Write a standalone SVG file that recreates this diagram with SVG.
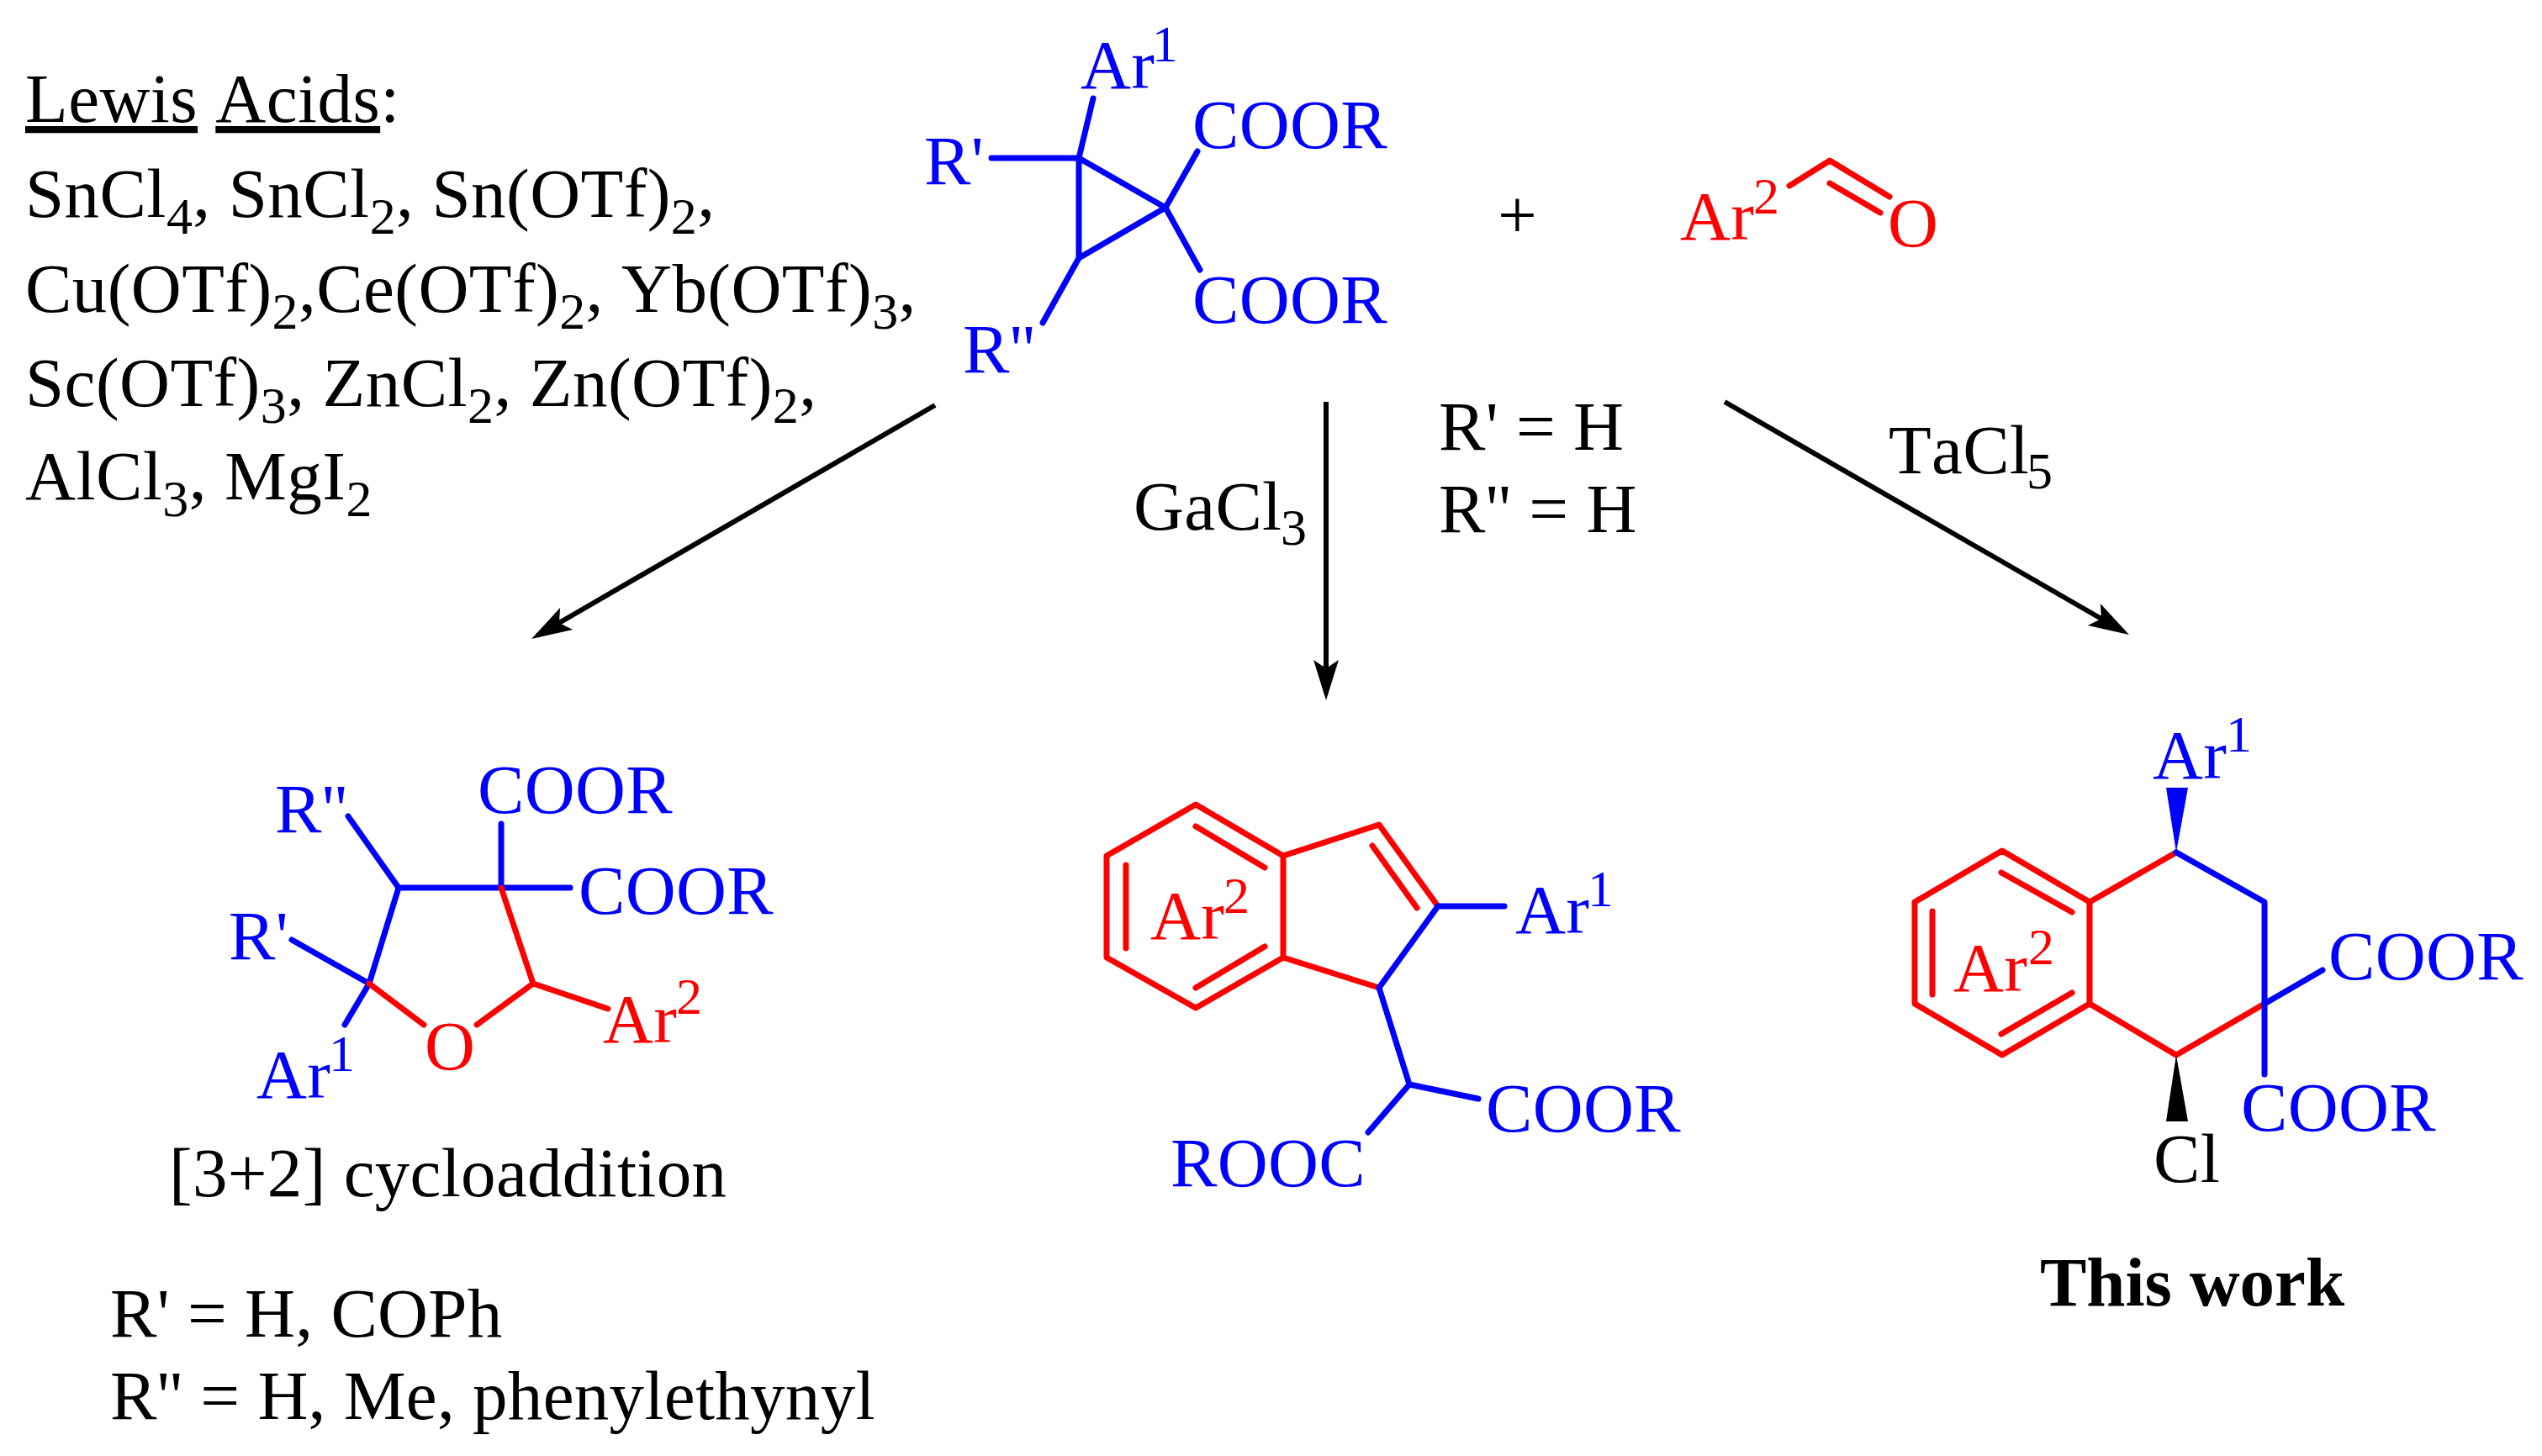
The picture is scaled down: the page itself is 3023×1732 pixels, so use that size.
<svg xmlns="http://www.w3.org/2000/svg" width="3023" height="1732" viewBox="0 0 3023 1732">
<style>
text{font-family:"Liberation Serif","Times New Roman",serif;font-size:83px;fill:#000;font-kerning:none;letter-spacing:.3px}
.b text,text.b{fill:#00f}
.r text,text.r{fill:#f00}
.u{font-size:62px}
#lewis-acids text{letter-spacing:.45px}
.bl,.rl,.al{fill:none;stroke-linecap:round;stroke-linejoin:round;stroke-width:7}
.bl{stroke:#00f}.rl{stroke:#f00}
.al{stroke:#000;stroke-width:6;stroke-linecap:butt}
</style>
<defs>
<marker id="ah" markerUnits="userSpaceOnUse" markerWidth="54" markerHeight="34" viewBox="-50 -17 54 34" refX="-8" refY="0" orient="auto"><path d="M0,0L-48,-15L-38,0L-48,15Z" fill="#000"/></marker>
</defs>
<rect width="3023" height="1732" fill="#fff"/>
<g id="connectors">
<path class="al" marker-end="url(#ah)" d="M1112,482L639,756"/>
<path class="al" marker-end="url(#ah)" d="M1577,478V825"/>
<path class="al" marker-end="url(#ah)" d="M2051,478L2525,751"/>
</g>
<g id="lewis-acids">
<text x="30" y="145"><tspan text-decoration="underline">Lewis</tspan> <tspan text-decoration="underline">Acids</tspan>:</text>
<text x="30" y="258">SnCl<tspan class="u" dy="20">4</tspan><tspan dy="-20">, SnCl</tspan><tspan class="u" dy="20">2</tspan><tspan dy="-20">, Sn(OTf)</tspan><tspan class="u" dy="20">2</tspan><tspan dy="-20">,</tspan></text>
<text x="30" y="371">Cu(OTf)<tspan class="u" dy="20">2</tspan><tspan dy="-20">,Ce(OTf)</tspan><tspan class="u" dy="20">2</tspan><tspan dy="-20">, Yb(OTf)</tspan><tspan class="u" dy="20">3</tspan><tspan dy="-20">,</tspan></text>
<text x="30" y="483">Sc(OTf)<tspan class="u" dy="20">3</tspan><tspan dy="-20">, ZnCl</tspan><tspan class="u" dy="20">2</tspan><tspan dy="-20">, Zn(OTf)</tspan><tspan class="u" dy="20">2</tspan><tspan dy="-20">,</tspan></text>
<text x="30" y="594">AlCl<tspan class="u" dy="20">3</tspan><tspan dy="-20">, MgI</tspan><tspan class="u" dy="20">2</tspan></text>
</g>
<g id="cyclopropane" class="b">
<path class="bl" d="M1283,188L1386,247L1283,307ZM1283,188L1300,117M1179,188H1283M1386,247L1424,180M1386,247L1427,321M1283,307L1240,384"/>
<text x="1285" y="105">Ar<tspan class="u" x="1370" y="73">1</tspan></text>
<text x="1418" y="176">COOR</text>
<text x="1418" y="384">COOR</text>
<text x="1099" y="219">R'</text>
<text x="1145" y="443">R''</text>
</g>
<g id="plus"><text x="1781" y="283">+</text></g>
<g id="aldehyde" class="r">
<path class="rl" d="M2128,221L2176,191L2247,234M2176,218L2236,253"/>
<text x="1998" y="285">Ar<tspan class="u" x="2085" y="254">2</tspan></text>
<text x="2245" y="293">O</text>
</g>
<g id="gacl3"><text x="1348" y="630">GaCl<tspan class="u" x="1523" y="648">3</tspan></text></g>
<g id="r-conditions">
<text x="1711" y="535">R' = H</text>
<text x="1711" y="633">R'' = H</text>
</g>
<g id="tacl5"><text x="2246" y="563">TaCl<tspan class="u" x="2410" y="581">5</tspan></text></g>
<g id="product-furan">
<g class="b">
<path class="bl" d="M414,971L474,1056H678M596,980V1056M347,1118L439,1170L474,1056M439,1170L410,1219"/>
<text x="568" y="967">COOR</text>
<text x="688" y="1087">COOR</text>
<text x="327" y="990">R''</text>
<text x="272" y="1141">R'</text>
<text x="305" y="1306">Ar<tspan class="u" x="391" y="1274">1</tspan></text>
</g>
<g class="r">
<path class="rl" d="M439,1170L504,1219M567,1219L634,1170L596,1056M634,1170L723,1200"/>
<text x="505" y="1272">O</text>
<text x="717" y="1240">Ar<tspan class="u" x="804" y="1206">2</tspan></text>
</g>
<text x="201" y="1423">[3+2] cycloaddition</text>
<text x="131" y="1590">R' = H, COPh</text>
<text x="131" y="1688">R'' = H, Me, phenylethynyl</text>
</g>
<g id="product-indene">
<g class="r">
<path class="rl" d="M1422,957L1526,1018V1139L1422,1199L1316,1139V1018ZM1422,983L1504,1032M1339,1029V1128M1422,1175L1504,1126M1526,1018L1640,981L1710,1078M1632,1006L1685,1080M1526,1139L1640,1175"/>
<text x="1368" y="1117">Ar<tspan class="u" x="1455" y="1086">2</tspan></text>
</g>
<g class="b">
<path class="bl" d="M1789,1078H1710L1640,1175L1676,1290L1758,1307M1676,1290L1627,1347"/>
<text x="1802" y="1110">Ar<tspan class="u" x="1888" y="1078">1</tspan></text>
<text x="1767" y="1346">COOR</text>
<text x="1392" y="1411">ROOC</text>
</g>
</g>
<g id="product-tetralin">
<g class="r">
<path class="rl" d="M2381,1012L2485,1073V1194L2381,1255L2277,1194V1073ZM2380,1038L2464,1085M2298,1084V1183M2380,1230L2464,1181M2485,1073L2588,1014M2485,1194L2588,1255L2693,1194"/>
<text x="2323" y="1179">Ar<tspan class="u" x="2412" y="1147">2</tspan></text>
</g>
<g class="b">
<path class="bl" d="M2588,1014L2693,1073V1278M2693,1194L2762,1154"/>
<path d="M2588,1014L2576,937H2602Z" fill="#00f"/>
<text x="2560" y="926">Ar<tspan class="u" x="2647" y="894">1</tspan></text>
<text x="2769" y="1165">COOR</text>
<text x="2665" y="1345">COOR</text>
</g>
<path d="M2588,1255L2576,1334H2602Z" fill="#000"/>
<text x="2561" y="1406">Cl</text>
<text x="2426" y="1553" font-weight="700" style="letter-spacing:0">This work</text>
</g>
</svg>
